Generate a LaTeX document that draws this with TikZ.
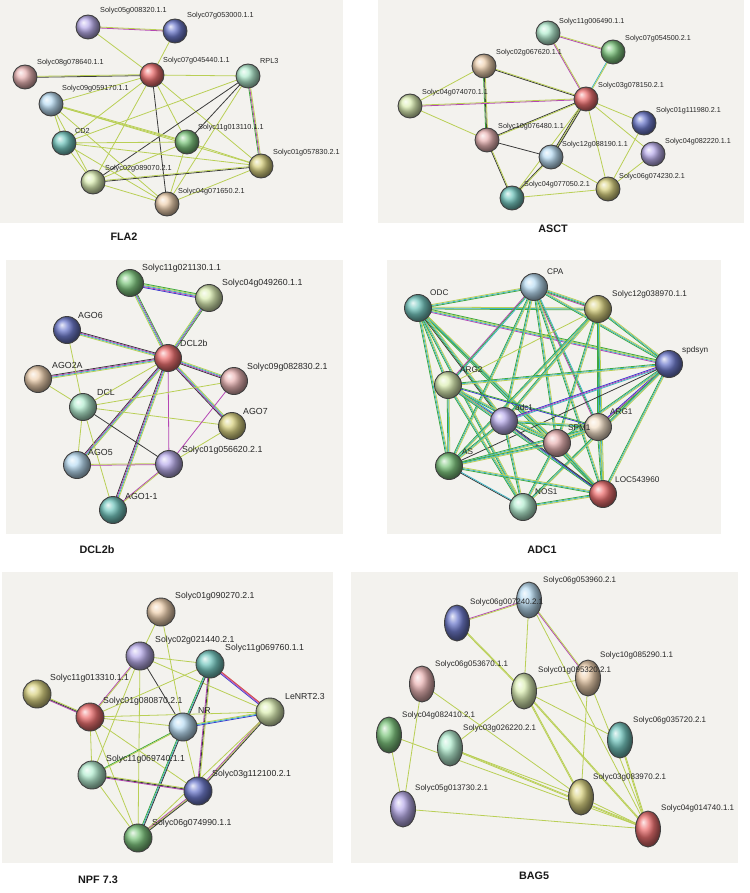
\documentclass[tikz,border=0pt]{standalone}
\usepackage{fontspec}
\usetikzlibrary{calc,shapes.geometric}
\newfontfamily\lf{Liberation Sans}
\definecolor{panelc}{HTML}{F3F2EE}
\definecolor{yg}{HTML}{B9CF55}
\definecolor{dk}{HTML}{3A3A3A}
\definecolor{pu}{HTML}{B445B4}
\definecolor{cy}{HTML}{3FB5C5}
\definecolor{gr}{HTML}{3DA83D}
\definecolor{bl}{HTML}{3A3ACF}
\definecolor{rd}{HTML}{D04040}
\definecolor{cRed}{HTML}{E84A4A}
\definecolor{cPink}{HTML}{E4A0A0}
\definecolor{cTan}{HTML}{EAC49A}
\definecolor{cLtan}{HTML}{F2DABC}
\definecolor{cLav}{HTML}{A898E6}
\definecolor{cNavy}{HTML}{4858C0}
\definecolor{cMint}{HTML}{A0E8C4}
\definecolor{cLBlue}{HTML}{A8D4F0}
\definecolor{cTeal}{HTML}{4FB8AE}
\definecolor{cGreen}{HTML}{5DB85D}
\definecolor{cOlive}{HTML}{CFC660}
\definecolor{cLyg}{HTML}{D3EAA0}
\pgfdeclarelayer{pan}\pgfdeclarelayer{bg}\pgfsetlayers{pan,bg,main}
\newcommand\eS[3][yg]{\draw[edg,draw=#1] (#2.center) -- (#3.center);}
\newcommand\eM[4]{%
  \foreach \cc [count=\ii] in {#4}{%
    \pgfmathsetmacro\off{(\ii-(#3+1)/2)*0.95}%
    \draw[edg,draw=\cc] ($(#1)!\off pt!90:(#2)$) -- ($(#2)!\off pt!-90:(#1)$);}}
\newcommand\eT[2]{\eM{#1}{#2}{3}{gr,cy,yg}}
\begin{document}
\begin{tikzpicture}[x=1pt,y=-1pt,
  sph/.style={circle, minimum size=#1, inner sep=0pt, draw=black!75, line width=0.9pt, shade},
  ell/.style={ellipse, minimum width=25pt, minimum height=36pt, inner sep=0pt, draw=black!75, line width=0.9pt, shade},
  bc/.style={ball color=#1!78!white},
  lbl/.style={anchor=west, inner sep=0pt, text=black!85, font=\lf\fontsize{#1}{#1}\selectfont},
  ttl/.style={inner sep=0pt, text=black!90, font=\lf\bfseries\fontsize{10.8}{12}\selectfont},
  edg/.style={line width=0.8pt, line cap=round}]
\useasboundingbox (0,0) rectangle (749,893);
\begin{pgfonlayer}{pan}
\fill[white] (0,0) rectangle (749,893);
\fill[panelc] (0,0) rectangle (343,223);
\fill[panelc] (378,0) rectangle (744,223);
\fill[panelc] (6,260) rectangle (343,534);
\fill[panelc] (387,260) rectangle (721,534);
\fill[panelc] (2,572) rectangle (333,863);
\fill[panelc] (351,572) rectangle (738,863);
\end{pgfonlayer}
% ---------------- FLA2
\node[sph=24pt, bc=cLav] (f1) at (88,27) {};
\node[sph=24pt, bc=cNavy] (f2) at (175,31) {};
\node[sph=24pt, bc=cPink] (f3) at (25,77) {};
\node[sph=24pt, bc=cRed] (f4) at (152,75) {};
\node[sph=24pt, bc=cMint] (f5) at (248,76) {};
\node[sph=24pt, bc=cLBlue] (f6) at (51,104) {};
\node[sph=24pt, bc=cTeal] (f7) at (64,143) {};
\node[sph=24pt, bc=cGreen] (f8) at (187,142) {};
\node[sph=24pt, bc=cOlive] (f9) at (261,166) {};
\node[sph=24pt, bc=cLyg] (f10) at (93,182) {};
\node[sph=24pt, bc=cTan] (f11) at (167,204) {};
\node[lbl=7.3] (fl1) at (100,11) {Solyc05g008320.1.1};
\node[lbl=7.3] (fl2) at (187,16) {Solyc07g053000.1.1};
\node[lbl=7.3] (fl3) at (37,63) {Solyc08g078640.1.1};
\node[lbl=7.3] (fl4) at (163,61) {Solyc07g045440.1.1};
\node[lbl=7.3] (fl5) at (260,61) {RPL3};
\node[lbl=7.3] (fl6) at (62,89) {Solyc09g059170.1.1};
\node[lbl=7.3] (fl7) at (75,131) {CD2};
\node[lbl=7.3] (fl8) at (198,128) {Solyc11g013110.1.1};
\node[lbl=7.3] (fl9) at (273,153) {Solyc01g057830.2.1};
\node[lbl=7.3] (fl10) at (105,169) {Solyc02g089070.2.1};
\node[lbl=7.3] (fl11) at (178,192) {Solyc04g071650.2.1};
\node[ttl] (t1) at (124,237) {FLA2};
% ---------------- ASCT
\node[sph=24pt, bc=cMint] (a1) at (548,33) {};
\node[sph=24pt, bc=cGreen] (a2) at (613,52) {};
\node[sph=24pt, bc=cTan] (a3) at (484,66) {};
\node[sph=24pt, bc=cRed] (a4) at (586,99) {};
\node[sph=24pt, bc=cLyg] (a5) at (410,106) {};
\node[sph=24pt, bc=cNavy] (a6) at (644,123) {};
\node[sph=24pt, bc=cPink] (a7) at (487,140) {};
\node[sph=24pt, bc=cLBlue] (a8) at (551,157) {};
\node[sph=24pt, bc=cLav] (a9) at (653,154) {};
\node[sph=24pt, bc=cOlive] (a10) at (608,189) {};
\node[sph=24pt, bc=cTeal] (a11) at (512,198) {};
\node[lbl=7.2] (al1) at (559,22) {Solyc11g006490.1.1};
\node[lbl=7.2] (al2) at (625,39) {Solyc07g054500.2.1};
\node[lbl=7.2] (al3) at (496,53) {Solyc02g067620.1.1};
\node[lbl=7.2] (al4) at (598,86) {Solyc03g078150.2.1};
\node[lbl=7.2] (al5) at (422,93) {Solyc04g074070.1.1};
\node[lbl=7.2] (al6) at (656,111) {Solyc01g111980.2.1};
\node[lbl=7.2] (al7) at (498,127) {Solyc10g076480.1.1};
\node[lbl=7.2] (al8) at (562,145) {Solyc12g088190.1.1};
\node[lbl=7.2] (al9) at (665,142) {Solyc04g082220.1.1};
\node[lbl=7.2] (al10) at (619,177) {Solyc06g074230.2.1};
\node[lbl=7.2] (al11) at (524,185) {Solyc04g077050.2.1};
\node[ttl] (t2) at (553,229) {ASCT};
% ---------------- DCL2b
\node[sph=27pt, bc=cGreen] (d1) at (130,283) {};
\node[sph=27pt, bc=cLyg] (d2) at (209,298) {};
\node[sph=27pt, bc=cNavy] (d3) at (67,330) {};
\node[sph=27pt, bc=cRed] (d4) at (168,358) {};
\node[sph=27pt, bc=cTan] (d5) at (38,379) {};
\node[sph=27pt, bc=cPink] (d6) at (234,381) {};
\node[sph=27pt, bc=cMint] (d7) at (83,407) {};
\node[sph=27pt, bc=cOlive] (d8) at (232,426) {};
\node[sph=27pt, bc=cLBlue] (d9) at (77,465) {};
\node[sph=27pt, bc=cLav] (d10) at (169,464) {};
\node[sph=27pt, bc=cTeal] (d11) at (113,510) {};
\node[lbl=8.8] (dl1) at (142,268) {Solyc11g021130.1.1};
\node[lbl=8.8] (dl2) at (222,283) {Solyc04g049260.1.1};
\node[lbl=8.8] (dl3) at (78,315) {AGO6};
\node[lbl=8.8] (dl4) at (180,343) {DCL2b};
\node[lbl=8.8] (dl5) at (52,365) {AGO2A};
\node[lbl=8.8] (dl6) at (247,367) {Solyc09g082830.2.1};
\node[lbl=8.8] (dl7) at (97,392) {DCL};
\node[lbl=8.8] (dl8) at (243,411) {AGO7};
\node[lbl=8.8] (dl9) at (88,452) {AGO5};
\node[lbl=8.8] (dl10) at (182,450) {Solyc01g056620.2.1};
\node[lbl=8.8] (dl11) at (125,496) {AGO1-1};
\node[ttl] (t3) at (97,550) {DCL2b};
% ---------------- ADC1
\node[sph=27pt, bc=cLBlue] (c1) at (534,287) {};
\node[sph=27pt, bc=cTeal] (c2) at (418,308) {};
\node[sph=27pt, bc=cOlive] (c3) at (598,309) {};
\node[sph=27pt, bc=cNavy] (c4) at (669,364) {};
\node[sph=27pt, bc=cLyg] (c5) at (448,385) {};
\node[sph=27pt, bc=cLav] (c6) at (504,421) {};
\node[sph=27pt, bc=cLtan] (c7) at (598,427) {};
\node[sph=27pt, bc=cPink] (c8) at (557,443) {};
\node[sph=27pt, bc=cGreen] (c9) at (449,466) {};
\node[sph=27pt, bc=cRed] (c10) at (603,494) {};
\node[sph=27pt, bc=cMint] (c11) at (523,507) {};
\node[lbl=8.2] (cl1) at (547,272) {CPA};
\node[lbl=8.2] (cl2) at (430,293) {ODC};
\node[lbl=8.2] (cl3) at (612,294) {Solyc12g038970.1.1};
\node[lbl=8.2] (cl4) at (682,350) {spdsyn};
\node[lbl=8.2] (cl5) at (460,370) {ARG2};
\node[lbl=8.2] (cl6) at (515,408) {adc1};
\node[lbl=8.2] (cl7) at (610,412) {ARG1};
\node[lbl=8.2] (cl8) at (568,428) {SPM1};
\node[lbl=8.2] (cl9) at (462,452) {AS};
\node[lbl=8.2] (cl10) at (615,480) {LOC543960};
\node[lbl=8.2] (cl11) at (535,492) {NOS1};
\node[ttl] (t4) at (542,550) {ADC1};
% ---------------- NPF 7.3
\node[sph=28pt, bc=cTan] (n1) at (161,612) {};
\node[sph=28pt, bc=cLav] (n2) at (140,656) {};
\node[sph=28pt, bc=cTeal] (n3) at (210,664) {};
\node[sph=28pt, bc=cOlive] (n4) at (37,694) {};
\node[sph=28pt, bc=cLyg] (n5) at (270,712) {};
\node[sph=28pt, bc=cRed] (n6) at (90,717) {};
\node[sph=28pt, bc=cLBlue] (n7) at (183,727) {};
\node[sph=28pt, bc=cMint] (n8) at (92,775) {};
\node[sph=28pt, bc=cNavy] (n9) at (198,791) {};
\node[sph=28pt, bc=cGreen] (n10) at (138,838) {};
\node[lbl=8.7] (nl1) at (175,596) {Solyc01g090270.2.1};
\node[lbl=8.7] (nl2) at (155,640) {Solyc02g021440.2.1};
\node[lbl=8.7] (nl3) at (225,648) {Solyc11g069760.1.1};
\node[lbl=8.7] (nl4) at (50,678) {Solyc11g013310.1.1};
\node[lbl=8.7] (nl5) at (285,696) {LeNRT2.3};
\node[lbl=8.7] (nl6) at (103,701) {Solyc01g080870.2.1};
\node[lbl=8.7] (nl7) at (198,710) {NR};
\node[lbl=8.7] (nl8) at (106,759) {Solyc11g069740.1.1};
\node[lbl=8.7] (nl9) at (212,774) {Solyc03g112100.2.1};
\node[lbl=8.7] (nl10) at (152,823) {Solyc06g074990.1.1};
\node[ttl] (t5) at (98,880) {NPF 7.3};
% ---------------- BAG5
\node[ell, bc=cLBlue] (b1) at (529,600) {};
\node[ell, bc=cNavy] (b2) at (457,623) {};
\node[ell, bc=cTan] (b3) at (588,678) {};
\node[ell, bc=cPink] (b4) at (422,684) {};
\node[ell, bc=cLyg] (b5) at (524,691) {};
\node[ell, bc=cGreen] (b6) at (389,735) {};
\node[ell, bc=cMint] (b7) at (450,748) {};
\node[ell, bc=cTeal] (b8) at (620,740) {};
\node[ell, bc=cOlive] (b9) at (581,797) {};
\node[ell, bc=cLav] (b10) at (403,809) {};
\node[ell, bc=cRed] (b11) at (648,829) {};
\node[lbl=8] (bl1) at (543,580) {Solyc06g053960.2.1};
\node[lbl=8] (bl2) at (470,602) {Solyc06g007240.2.1};
\node[lbl=8] (bl3) at (600,655) {Solyc10g085290.1.1};
\node[lbl=8] (bl4) at (435,664) {Solyc06g053670.1.1};
\node[lbl=8] (bl5) at (538,670) {Solyc01g095320.2.1};
\node[lbl=8] (bl6) at (402,715) {Solyc04g082410.2.1};
\node[lbl=8] (bl7) at (463,728) {Solyc03g026220.2.1};
\node[lbl=8] (bl8) at (633,720) {Solyc06g035720.2.1};
\node[lbl=8] (bl9) at (593,777) {Solyc03g083970.2.1};
\node[lbl=8] (bl10) at (415,788) {Solyc05g013730.2.1};
\node[lbl=8] (bl11) at (661,808) {Solyc04g014740.1.1};
\node[ttl] (t6) at (534,876) {BAG5};
% ================= edges
\begin{pgfonlayer}{bg}
% FLA2
\eM{f1}{f2}{2}{pu,yg}
\eS{f1}{f4} \eS{f2}{f4}
\eM{f3}{f4}{2}{dk,yg}
\eS{f4}{f5} \eS{f4}{f6} \eS{f4}{f7} \eS{f4}{f10} \eS[dk]{f4}{f11} \eS{f4}{f8} \eS{f4}{f9}
\eS{f5}{f7} \eS[dk]{f5}{f10} \eS[dk]{f5}{f8} \eS{f5}{f11}
\eM{f5}{f9}{3}{gr,pu,yg}
\eM{f6}{f8}{2}{yg,yg}
\eS{f6}{f7} \eS{f6}{f10} \eS{f6}{f11} \eS{f6}{f9}
\eS{f7}{f8} \eS{f7}{f9} \eS{f7}{f10} \eS{f7}{f11}
\eS{f8}{f9} \eS{f8}{f10} \eS{f8}{f11}
\eM{f10}{f9}{2}{dk,yg}
\eS{f10}{f11} \eS{f9}{f11}
% ASCT
\eM{a1}{a2}{2}{pu,yg} \eM{a1}{a4}{2}{pu,yg} \eM{a2}{a4}{2}{cy,yg}
\eM{a3}{a4}{2}{dk,yg} \eS{a3}{a5} \eM{a3}{a7}{3}{gr,dk,yg}
\eM{a5}{a4}{2}{pu,yg} \eS{a5}{a7}
\eM{a4}{a7}{2}{dk,yg} \eM{a4}{a8}{3}{dk,yg,dk}
\eS{a4}{a11} \eS{a4}{a10} \eS{a4}{a6} \eS{a4}{a9}
\eS[dk]{a7}{a8} \eM{a7}{a11}{2}{dk,yg} \eM{a8}{a11}{2}{dk,yg}
\eS{a8}{a10} \eS{a11}{a10} \eS{a10}{a6} \eS{a10}{a9}
% DCL2b
\eM{d1}{d2}{5}{bl,pu,cy,yg,gr}
\eM{d4}{d1}{4}{gr,pu,cy,yg}
\eM{d4}{d2}{4}{gr,pu,cy,yg}
\eM{d4}{d3}{4}{dk,pu,cy,yg}
\eM{d4}{d5}{4}{dk,pu,cy,yg}
\eM{d4}{d6}{4}{dk,pu,cy,yg}
\eM{d4}{d8}{4}{dk,pu,cy,yg}
\eM{d4}{d9}{4}{dk,pu,cy,yg}
\eM{d4}{d11}{4}{dk,pu,cy,yg}
\eS{d4}{d7} \eS[pu]{d4}{d10}
\eS{d3}{d7} \eS{d5}{d7} \eS{d7}{d6} \eS{d7}{d8} \eS[dk]{d7}{d10} \eS{d7}{d9} \eS{d7}{d11}
\eM{d9}{d10}{2}{pu,yg} \eM{d10}{d11}{2}{pu,yg} \eS[pu]{d10}{d6} \eS{d10}{d8}
% ADC1
\eT{c2}{c1} \eT{c2}{c3} \eT{c2}{c5} \eT{c2}{c9} \eT{c2}{c10} \eT{c2}{c8} \eT{c2}{c11}
\eM{c2}{c4}{4}{pu,cy,yg,gr} \eM{c2}{c6}{4}{dk,gr,cy,yg}
\eM{c1}{c3}{4}{pu,gr,cy,yg} \eT{c1}{c4} \eM{c1}{c5}{3}{pu,gr,cy}
\eT{c1}{c6} \eM{c1}{c7}{3}{pu,gr,cy} \eT{c1}{c8} \eT{c1}{c9} \eT{c1}{c10}
\eT{c3}{c4} \eS{c3}{c5} \eT{c3}{c6} \eT{c3}{c7} \eT{c3}{c8} \eT{c3}{c9} \eT{c3}{c10}
\eT{c4}{c5} \eM{c4}{c6}{3}{bl,pu,cy} \eM{c4}{c7}{3}{bl,pu,gr} \eT{c4}{c8} \eS[dk]{c4}{c9} \eT{c4}{c10} \eT{c4}{c11}
\eM{c5}{c6}{3}{pu,bl,cy} \eM{c5}{c7}{2}{bl,gr} \eT{c5}{c8} \eT{c5}{c9} \eT{c5}{c10} \eT{c5}{c11}
\eT{c6}{c7} \eT{c6}{c8} \eT{c6}{c9} \eM{c6}{c10}{2}{bl,dk} \eT{c6}{c11}
\eT{c7}{c8} \eT{c7}{c9} \eT{c7}{c10}
\eT{c8}{c9} \eT{c8}{c10} \eT{c8}{c11}
\eT{c9}{c10} \eM{c9}{c11}{2}{dk,cy}
\eT{c10}{c11}
% NPF 7.3
\eS{n1}{n2} \eS{n1}{n7}
\eS{n2}{n3} \eM{n2}{n6}{2}{pu,yg} \eS[dk]{n2}{n7} \eS{n2}{n5} \eS{n2}{n8} \eS{n2}{n10}
\eM{n4}{n6}{3}{pu,dk,yg}
\eS{n3}{n6} \eM{n3}{n5}{3}{bl,pu,rd} \eM{n3}{n7}{3}{gr,cy,dk} \eM{n3}{n9}{3}{pu,dk,yg}
\eS{n6}{n7} \eS{n6}{n5} \eS{n6}{n8} \eS{n6}{n9} \eS{n6}{n10}
\eM{n7}{n5}{3}{bl,cy,yg} \eM{n7}{n8}{2}{gr,yg} \eS{n7}{n9} \eM{n7}{n10}{3}{gr,cy,dk}
\eM{n5}{n9}{3}{pu,yg,dk} \eS{n5}{n10}
\eM{n8}{n9}{3}{pu,dk,yg} \eS{n8}{n10}
\eM{n9}{n10}{3}{pu,yg,dk}
% BAG5
\eM{b1}{b2}{2}{pu,yg} \eM{b1}{b3}{2}{pu,yg} \eS{b1}{b5} \eS{b1}{b11}
\eM{b2}{b5}{2}{yg,yg}
\eS{b3}{b5} \eS{b3}{b9} \eS{b3}{b11}
\eS{b4}{b10} \eS{b4}{b9}
\eS{b6}{b10} \eS{b6}{b11}
\eS{b5}{b7} \eS{b5}{b8} \eM{b5}{b9}{2}{yg,yg} \eM{b5}{b11}{2}{yg,yg}
\eM{b7}{b11}{2}{yg,yg} \eS{b7}{b9}
\eM{b8}{b11}{2}{yg,yg}
\eS{b9}{b11} \eS{b10}{b11}
\end{pgfonlayer}
\end{tikzpicture}
\end{document}
